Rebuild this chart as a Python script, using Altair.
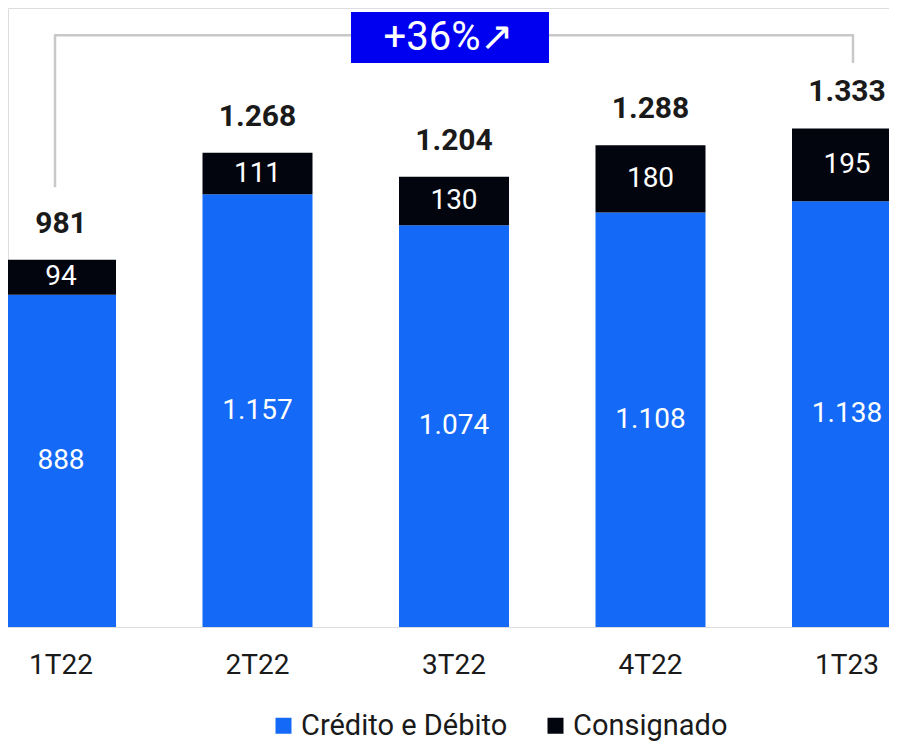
import altair as alt
import pandas as pd

# ---- data ----
quarters = ["1T22", "2T22", "3T22", "4T22", "1T23"]
credito = [888, 1157, 1074, 1108, 1138]
consignado = [94, 111, 130, 180, 195]
totals = [981, 1268, 1204, 1288, 1333]
series_names = ["Crédito e Débito", "Consignado"]
series_colors = ["#146AF6", "#03050E"]


def br(v):
    return f"{v:,}".replace(",", ".")


rows = []
for q, c, k in zip(quarters, credito, consignado):
    rows.append({"q": q, "serie": series_names[0], "y0": 0, "y1": c, "lab": br(c)})
    rows.append({"q": q, "serie": series_names[1], "y0": c, "y1": c + k, "lab": br(k)})
seg = pd.DataFrame(rows)
seg["mid"] = (seg["y0"] + seg["y1"]) / 2
tot = pd.DataFrame({"q": quarters, "total": totals, "lab": [br(t) for t in totals]})

growth = round((totals[-1] / totals[0] - 1) * 100)
growth_label = f"+{growth}%↗"

# ---- layout constants ----
W, H = 881, 619
YMAX = 1655
FONT = "Roboto"
BRACKET_Y = 1582
LEFT_END = 1176
RIGHT_END = 1508
BOX_Y0, BOX_Y1 = 1508, 1644
LINE_COLOR = "#C8C8C8"

xscale = alt.Scale(domain=quarters, range=[-2, 894], paddingInner=0.4402,
                   paddingOuter=0, round=False)
yscale = alt.Scale(domain=[0, YMAX], nice=False, zero=True)

X = alt.X("q:N", scale=xscale, sort=quarters,
          axis=alt.Axis(title=None, labelAngle=0, domain=False, ticks=False, tickSize=0,
                        labelPadding=24, labelFontSize=28, labelFont=FONT,
                        labelColor="#1A1A1A", grid=False))
Y = alt.Y("y0:Q", scale=yscale, axis=None)

bars = alt.Chart(seg).mark_bar(width=110).encode(
    x=X,
    y=Y,
    y2="y1:Q",
    color=alt.Color("serie:N",
                    scale=alt.Scale(domain=series_names, range=series_colors),
                    legend=alt.Legend(orient="none", legendX=261, legendY=703,
                                      direction="horizontal", title=None,
                                      symbolType="square", symbolSize=256,
                                      symbolStrokeWidth=0, labelFontSize=29,
                                      labelFont=FONT, labelColor="#1A1A1A",
                                      labelLimit=1000,
                                      labelOffset=3, columnPadding=33, padding=0)),
)

seg_text = alt.Chart(seg).mark_text(color="white", fontSize=28, font=FONT,
                                    baseline="middle", align="center").encode(
    x=alt.X("q:N", scale=xscale, sort=quarters),
    y=alt.Y("mid:Q", scale=yscale),
    text="lab:N",
)

tot_text = alt.Chart(tot).mark_text(color="#1A1A1A", fontSize=30, fontWeight="bold",
                                    font=FONT, baseline="alphabetic", align="center",
                                    dy=-27).encode(
    x=alt.X("q:N", scale=xscale, sort=quarters),
    y=alt.Y("total:Q", scale=yscale),
    text="lab:N",
)

one = pd.DataFrame({"a": [0]})

left_v = alt.Chart(one).mark_rule(color=LINE_COLOR, strokeWidth=2.5, xOffset=-6).encode(
    x=alt.datum(quarters[0], scale=xscale),
    y=alt.datum(LEFT_END, scale=yscale),
    y2=alt.datum(BRACKET_Y),
)
right_v = alt.Chart(one).mark_rule(color=LINE_COLOR, strokeWidth=2.5, xOffset=6).encode(
    x=alt.datum(quarters[-1], scale=xscale),
    y=alt.datum(RIGHT_END, scale=yscale),
    y2=alt.datum(BRACKET_Y),
)
horiz = alt.Chart(one).mark_rule(color=LINE_COLOR, strokeWidth=2.5, xOffset=-7, x2Offset=7).encode(
    x=alt.datum(quarters[0], scale=xscale),
    x2=alt.datum(quarters[-1]),
    y=alt.datum(BRACKET_Y, scale=yscale),
)

box = alt.Chart(one).mark_rect(color="#0000F0", width=198, xOffset=-4).encode(
    x=alt.datum(quarters[2], scale=xscale),
    y=alt.datum(BOX_Y0, scale=yscale),
    y2=alt.datum(BOX_Y1),
)
box_text = alt.Chart(one).mark_text(color="white", fontSize=40, font=FONT,
                                    baseline="middle", align="center", dx=-5).encode(
    x=alt.datum(quarters[2], scale=xscale),
    y=alt.datum((BOX_Y0 + BOX_Y1) / 2, scale=yscale),
    text=alt.value(growth_label),
)

chart = alt.layer(bars, seg_text, tot_text, left_v, right_v, horiz, box, box_text).properties(
    width=W, height=H,
    autosize=alt.AutoSizeParams(type="none"),
    padding={"left": 0, "top": 0, "right": 0, "bottom": 114},
).configure_view(stroke=None).configure(background="white")

chart.save("out.html", embed_options={"renderer": "svg", "actions": False})
